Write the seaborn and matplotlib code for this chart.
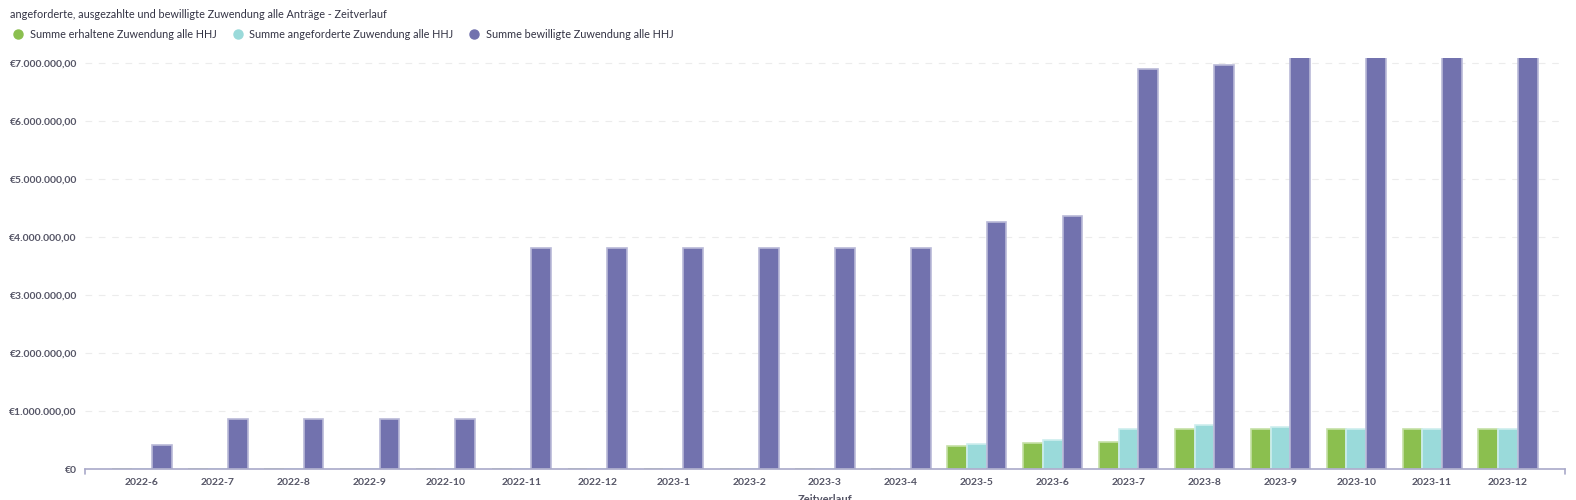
import seaborn as sns
import matplotlib.pyplot as plt
import pandas as pd
from matplotlib.lines import Line2D
from matplotlib.ticker import FuncFormatter

# Daten
monate = ['2022-6', '2022-7', '2022-8', '2022-9', '2022-10', '2022-11', '2022-12',
          '2023-1', '2023-2', '2023-3', '2023-4', '2023-5', '2023-6', '2023-7',
          '2023-8', '2023-9', '2023-10', '2023-11', '2023-12']
erhalten = [0, 0, 0, 0, 0, 0, 0, 0, 0, 0, 0,
            410000, 450000, 470000, 690000, 690000, 690000, 690000, 690000]
angefordert = [0, 0, 0, 0, 0, 0, 0, 0, 0, 0, 0,
               440000, 510000, 700000, 760000, 730000, 690000, 690000, 690000]
bewilligt = [420000, 860000, 860000, 860000, 860000, 3820000, 3820000, 3820000,
             3820000, 3820000, 3820000, 4270000, 4360000, 6910000, 6970000,
             7100000, 7100000, 7100000, 7100000]

serien = ['Summe erhaltene Zuwendung alle HHJ',
          'Summe angeforderte Zuwendung alle HHJ',
          'Summe bewilligte Zuwendung alle HHJ']
farben = ['#8bbf4f', '#9adada', '#7272ae']
kanten = ['#c5e0a6', '#cdeeee', '#b9b9d8']

df = pd.DataFrame({
    'Zeitverlauf': monate * 3,
    'Wert': erhalten + angefordert + bewilligt,
    'Serie': [serien[0]] * len(monate) + [serien[1]] * len(monate) + [serien[2]] * len(monate),
})

sns.set_style('white')
plt.rcParams['font.family'] = ['Lato', 'DejaVu Sans']

fig = plt.figure(figsize=(15.76, 5), dpi=100)
ax = fig.add_axes([0.054, 0.0614, 0.939, 0.8236])

sns.barplot(data=df, x='Zeitverlauf', y='Wert', hue='Serie', palette=farben,
            width=0.78, ax=ax, legend=False, saturation=1)

# Kantenfarbe je Serie
for i, cont in enumerate(ax.containers):
    for bar in cont:
        bar.set_edgecolor(kanten[i])
        bar.set_linewidth(1.2)

ax.set_ylim(0, 7100000)
ax.set_xlim(-0.75, len(monate) - 0.25)
ax.set_yticks(range(0, 7000001, 1000000))


def euro(v, pos):
    if v == 0:
        return '€0'
    s = f'{v:,.2f}'.replace(',', 'X').replace('.', ',').replace('X', '.')
    return '€' + s


ax.yaxis.set_major_formatter(FuncFormatter(euro))
ax.grid(axis='y', color='#ececec', linestyle=(0, (6, 6)), linewidth=0.8)
ax.set_axisbelow(True)

for s in ['top', 'right', 'left']:
    ax.spines[s].set_visible(False)
ax.spines['bottom'].set_color('#a9a9c9')
ax.spines['bottom'].set_linewidth(1.2)

# kleine Endmarken der x-Achse
ax.plot([-0.75, -0.75], [0, -0.012], transform=ax.get_xaxis_transform(),
        color='#a9a9c9', lw=1.2, clip_on=False)
ax.plot([len(monate) - 0.25] * 2, [0, -0.012], transform=ax.get_xaxis_transform(),
        color='#a9a9c9', lw=1.2, clip_on=False)

ax.tick_params(axis='y', length=0, labelsize=7.5, labelcolor='#555566', pad=6)
ax.tick_params(axis='x', length=0, labelsize=7.5, labelcolor='#555566', pad=6)
for lab in ax.get_xticklabels() + ax.get_yticklabels():
    lab.set_fontweight('bold')

ax.set_ylabel('')
ax.set_xlabel('Zeitverlauf', fontsize=8, color='#555566', fontweight='bold', labelpad=5)

# Titel und Legende
fig.text(0.0065, 0.972, 'angeforderte, ausgezahlte und bewilligte Zuwendung alle Anträge - Zeitverlauf',
         fontsize=7.8, color='#333344', va='center')

handles = [Line2D([0], [0], marker='o', linestyle='', markersize=6.5,
                  markerfacecolor=f, markeredgecolor=f) for f in farben]
fig.legend(handles, serien, loc='center left', bbox_to_anchor=(0.002, 0.932),
           ncol=3, frameon=False, fontsize=7.8, handletextpad=0.1,
           columnspacing=0.9, labelcolor='#333344', borderaxespad=0)

fig.savefig('out.png', dpi=100)
